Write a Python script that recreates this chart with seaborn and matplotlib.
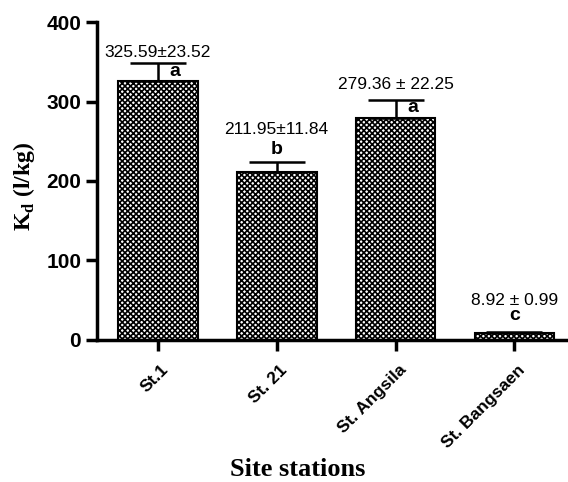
import matplotlib
matplotlib.use('Agg')
import matplotlib.pyplot as plt
import matplotlib.transforms as mtransforms
import pandas as pd
import seaborn as sns

# data
sites = ['St.1', 'St. 21', 'St. Angsila', 'St. Bangsaen']
kd_mean = [325.59, 211.95, 279.36, 8.92]
kd_sd = [23.52, 11.84, 22.25, 0.99]
value_labels = ['325.59\u00b123.52', '211.95\u00b111.84', '279.36 \u00b1 22.25', '8.92 \u00b1 0.99']
group_letters = ['a', 'b', 'a', 'c']

sns.set_style('ticks')
plt.rcParams['hatch.linewidth'] = 1.2
plt.rcParams['font.family'] = ['Liberation Sans', 'DejaVu Sans']
for key in ['text.color', 'axes.labelcolor', 'xtick.color', 'ytick.color', 'axes.edgecolor']:
    plt.rcParams[key] = 'black'

df = pd.DataFrame({'site': sites, 'kd': kd_mean})

fig = plt.figure(figsize=(5.68, 4.82), dpi=100)
ax = fig.add_axes([0.171, 0.295, 0.829, 0.659])

sns.barplot(data=df, x='site', y='kd', ax=ax, color='white', edgecolor='black',
            linewidth=1.5, width=0.67, errorbar=None)
for p in ax.patches:
    p.set_hatch('xxxxxx')

# upper error bars only
ax.errorbar(range(len(sites)), kd_mean, yerr=[[0] * len(sites), kd_sd], fmt='none',
            ecolor='black', elinewidth=1.8, capsize=20, capthick=1.8)

# value annotations
label_y = [362, 265, 322, 50]
for i, txt in enumerate(value_labels):
    ax.text(i, label_y[i], txt, ha='center', va='center', fontsize=12.5)

# significance letters
ax.text(0.1, kd_mean[0] + 2, group_letters[0], ha='left', va='bottom', fontsize=14, fontweight='bold')
ax.text(1, kd_mean[1] + kd_sd[1] + 5, group_letters[1], ha='center', va='bottom', fontsize=14, fontweight='bold')
ax.text(2.1, kd_mean[2] + 2, group_letters[2], ha='left', va='bottom', fontsize=14, fontweight='bold')
ax.text(3, kd_mean[3] + kd_sd[3] + 10, group_letters[3], ha='center', va='bottom', fontsize=14, fontweight='bold')

ax.set_ylim(0, 400)
ax.set_xlim(-0.51, 3.45)
ax.set_yticks([0, 100, 200, 300, 400])
ax.tick_params(axis='y', labelsize=15, width=2.5, length=8, direction='out')
ax.tick_params(axis='x', labelsize=12.5, width=2.5, length=8, direction='out', pad=12)
for lab in ax.get_yticklabels() + ax.get_xticklabels():
    lab.set_fontweight('bold')
shift = mtransforms.ScaledTranslation(6 / 72, 0, fig.dpi_scale_trans)
for lab in ax.get_xticklabels():
    lab.set_rotation(45)
    lab.set_ha('right')
    lab.set_va('center')
    lab.set_rotation_mode('anchor')
    lab.set_transform(lab.get_transform() + shift)

ax.set_xlabel('Site stations', fontsize=19, fontweight='bold', family='Liberation Serif')
ax.xaxis.set_label_coords(0.425, -0.372)
ax.set_ylabel('K$_\\mathregular{d}$ (l/kg)', fontsize=17, fontweight='bold', family='Liberation Serif')
ax.yaxis.set_label_coords(-0.128, 0.484)

sns.despine(ax=ax)
for sp in ['left', 'bottom']:
    ax.spines[sp].set_linewidth(2.5)

fig.savefig('out.png', dpi=100)
